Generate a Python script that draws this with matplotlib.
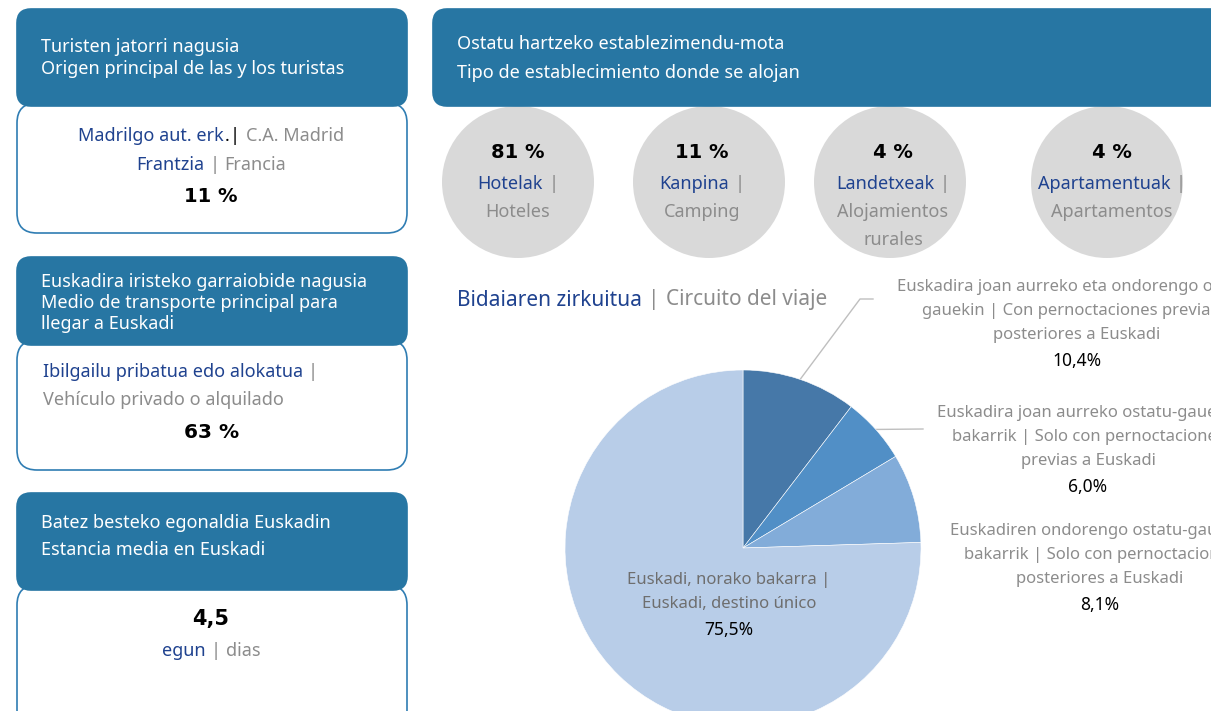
import matplotlib
matplotlib.use("Agg")
import matplotlib.pyplot as plt
from matplotlib.patches import FancyBboxPatch, Circle, Rectangle
import numpy as np

plt.rcParams["font.family"] = ["Noto Sans", "DejaVu Sans"]

# colours
HEADER = "#2776a3"
OUTLINE = "#2f7db3"
BLUE = "#1f428f"
GRAY = "#8c8c8c"
DGRAY = "#6e6e6e"
CIRCLE = "#d9d9d9"
BOLD = dict(fontfamily="DejaVu Sans", fontweight="bold")

# data
origin_eu = "Madrilgo aut. erk"
origin_es = "C.A. Madrid"
origin2_eu = "Frantzia"
origin2_es = "Francia"
origin_pct = "11 %"

transport_eu = "Ibilgailu pribatua edo alokatua"
transport_es = "Vehículo privado o alquilado"
transport_pct = "63 %"

stay_value = "4,5"

lodging_pct = ["81 %", "11 %", "4 %", "4 %"]
lodging_eu = ["Hotelak", "Kanpina", "Landetxeak", "Apartamentuak"]
lodging_es = [["Hoteles"], ["Camping"], ["Alojamientos", "rurales"], ["Apartamentos"]]

circuit_values = [10.4, 6.0, 8.1, 75.5]
circuit_colors = ["#4678a8", "#518fc6", "#82acd9", "#b8cde8"]
circuit_labels = [
    ["Euskadira joan aurreko eta ondorengo ostatu-", "gauekin | Con pernoctaciones previas y", "posteriores a Euskadi"],
    ["Euskadira joan aurreko ostatu-gauekin", "bakarrik | Solo con pernoctaciones", "previas a Euskadi"],
    ["Euskadiren ondorengo ostatu-gauekin", "bakarrik | Solo con pernoctaciones", "posteriores a Euskadi"],
    ["Euskadi, norako bakarra |", "Euskadi, destino único"],
]

W, H = 1211, 711
fig = plt.figure(figsize=(W / 100, H / 100), dpi=100)
ax = fig.add_axes([0, 0, 1, 1])
ax.set_xlim(0, W)
ax.set_ylim(H, 0)
ax.axis("off")
renderer = fig.canvas.get_renderer()


def box(x0, y0, x1, y1, fill, edge=None, r=14, z=1):
    p = FancyBboxPatch((x0, y0), x1 - x0, y1 - y0,
                       boxstyle=f"round,pad=0,rounding_size={r}",
                       facecolor=fill, edgecolor=edge if edge else fill,
                       linewidth=1.2, zorder=z)
    ax.add_patch(p)


def parts_line(target, x, y, parts, size=13, ha="center", gap=5, z=5):
    # parts: (text, colour, weight[, gap before])
    texts, gaps = [], []
    for i, p in enumerate(parts):
        s, c, wt = p[:3]
        gaps.append(0 if i == 0 else (p[3] if len(p) > 3 else gap))
        t = target.text(0, y, s, color=c, fontweight=wt, fontsize=size,
                        va="center", ha="left", zorder=z, transform=ax.transData)
        texts.append(t)
    widths = [t.get_window_extent(renderer).width for t in texts]
    total = sum(widths) + sum(gaps)
    start = x - total / 2 if ha == "center" else x
    for t, w, g in zip(texts, widths, gaps):
        start += g
        t.set_x(start)
        start += w
    return texts


def white(x, y, s):
    return ax.text(x, y, s, color="white", fontsize=13, va="center", zorder=5)


# ---- left column ----
box(17, 103, 407, 233, "white", OUTLINE, r=20, z=1)
box(17, 9, 407, 106, HEADER, r=14, z=2)
white(41, 47, "Turisten jatorri nagusia")
white(41, 69, "Origen principal de las y los turistas")
parts_line(ax, 211, 136, [(origin_eu, BLUE, "normal"), (".", "black", "normal", 1),
                          ("|", "black", "normal", 1), (origin_es, GRAY, "normal", 6)])
parts_line(ax, 211, 165, [(origin2_eu, BLUE, "normal"), ("|", GRAY, "normal"), (origin2_es, GRAY, "normal")])
ax.text(211, 197, origin_pct, color="black", fontsize=14, ha="center", va="center", zorder=5, **BOLD)

box(17, 340, 407, 470, "white", OUTLINE, r=20, z=1)
box(17, 257, 407, 345, HEADER, r=14, z=2)
clip = Rectangle((17, 250), 390, 83, transform=ax.transData)
for yy, s in zip([282, 303, 324], ["Euskadira iristeko garraiobide nagusia",
                                   "Medio de transporte principal para",
                                   "llegar a Euskadi"]):
    t = white(41, yy, s)
    t.set_clip_path(clip)
parts_line(ax, 43, 372, [(transport_eu, BLUE, "normal"), ("|", GRAY, "normal")], ha="left")
ax.text(43, 400, transport_es, color=GRAY, fontsize=13, va="center", zorder=5)
ax.text(212, 432, transport_pct, color="black", fontsize=14.5, ha="center", va="center", zorder=5, **BOLD)

box(17, 585, 407, 730, "white", OUTLINE, r=20, z=1)
box(17, 493, 407, 590, HEADER, r=14, z=2)
white(41, 523, "Batez besteko egonaldia Euskadin")
white(41, 550, "Estancia media en Euskadi")
ax.text(211, 619, stay_value, color="black", fontsize=15, ha="center", va="center", zorder=5, **BOLD)
parts_line(ax, 211, 651, [("egun", BLUE, "normal"), ("|", GRAY, "normal"), ("dias", GRAY, "normal")])

# ---- lodging ----
box(433, 9, 1240, 106, HEADER, r=14, z=2)
white(457, 44, "Ostatu hartzeko establezimendu-mota")
white(457, 73, "Tipo de establecimiento donde se alojan")

circle_x = [518, 709, 890, 1107]
text_x = [518, 702, 893, 1112]
for cx, tx, pct, eu, es in zip(circle_x, text_x, lodging_pct, lodging_eu, lodging_es):
    ax.add_patch(Circle((cx, 182), 76, facecolor=CIRCLE, edgecolor="none", zorder=1))
    ax.text(tx, 153, pct, color="black", fontsize=14, ha="center", va="center", zorder=5, **BOLD)
    parts_line(ax, tx, 184, [(eu, BLUE, "normal"), ("|", GRAY, "normal")], size=13)
    for k, line in enumerate(es):
        ax.text(tx, 212 + 28 * k, line, color=GRAY, fontsize=13, ha="center", va="center", zorder=5)

# ---- circuit pie ----
parts_line(ax, 457, 300, [("Bidaiaren zirkuitua", BLUE, "normal"), ("|", GRAY, "normal"),
                          ("Circuito del viaje", GRAY, "normal")], size=15, ha="left", gap=6)

cx, cy, r = 743, 548, 178
pax = fig.add_axes([(cx - r) / W, (H - cy - r) / H, 2 * r / W, 2 * r / H])
wedges, _ = pax.pie(circuit_values, colors=circuit_colors, startangle=90, counterclock=False,
                    radius=1, wedgeprops=dict(edgecolor="white", linewidth=0.4))
pax.set_xlim(-1, 1)
pax.set_ylim(-1, 1)
pax.axis("off")

label_x = [1077, 1088, 1100]
label_y = [287, 413, 531]
for i in range(3):
    for k, line in enumerate(circuit_labels[i]):
        ax.text(label_x[i], label_y[i] + 24 * k, line, color=GRAY, fontsize=12, ha="center", va="center", zorder=5)
    ax.text(label_x[i], label_y[i] + 74, f"{circuit_values[i]:.1f}%".replace(".", ","),
            color="black", fontsize=12.5, ha="center", va="center", zorder=5)

# leader lines from wedge midpoints
ends = [[(860, 299), (873, 299)], [(923, 429)]]
for w, pts in zip(wedges[:2], ends):
    th = np.deg2rad((w.theta1 + w.theta2) / 2)
    px, py = cx + r * np.cos(th), cy - r * np.sin(th)
    xs = [px] + [p[0] for p in pts]
    ys = [py] + [p[1] for p in pts]
    ax.plot(xs, ys, color="#bfbfbf", linewidth=1, zorder=3)

for k, line in enumerate(circuit_labels[3]):
    pax.text(729, 580 + 24 * k, line, color=DGRAY, fontsize=12, ha="center", va="center",
             transform=ax.transData)
pax.text(729, 630, f"{circuit_values[3]:.1f}%".replace(".", ","), color="black", fontsize=12.5,
         ha="center", va="center", transform=ax.transData)

fig.savefig("out.png", dpi=100)
